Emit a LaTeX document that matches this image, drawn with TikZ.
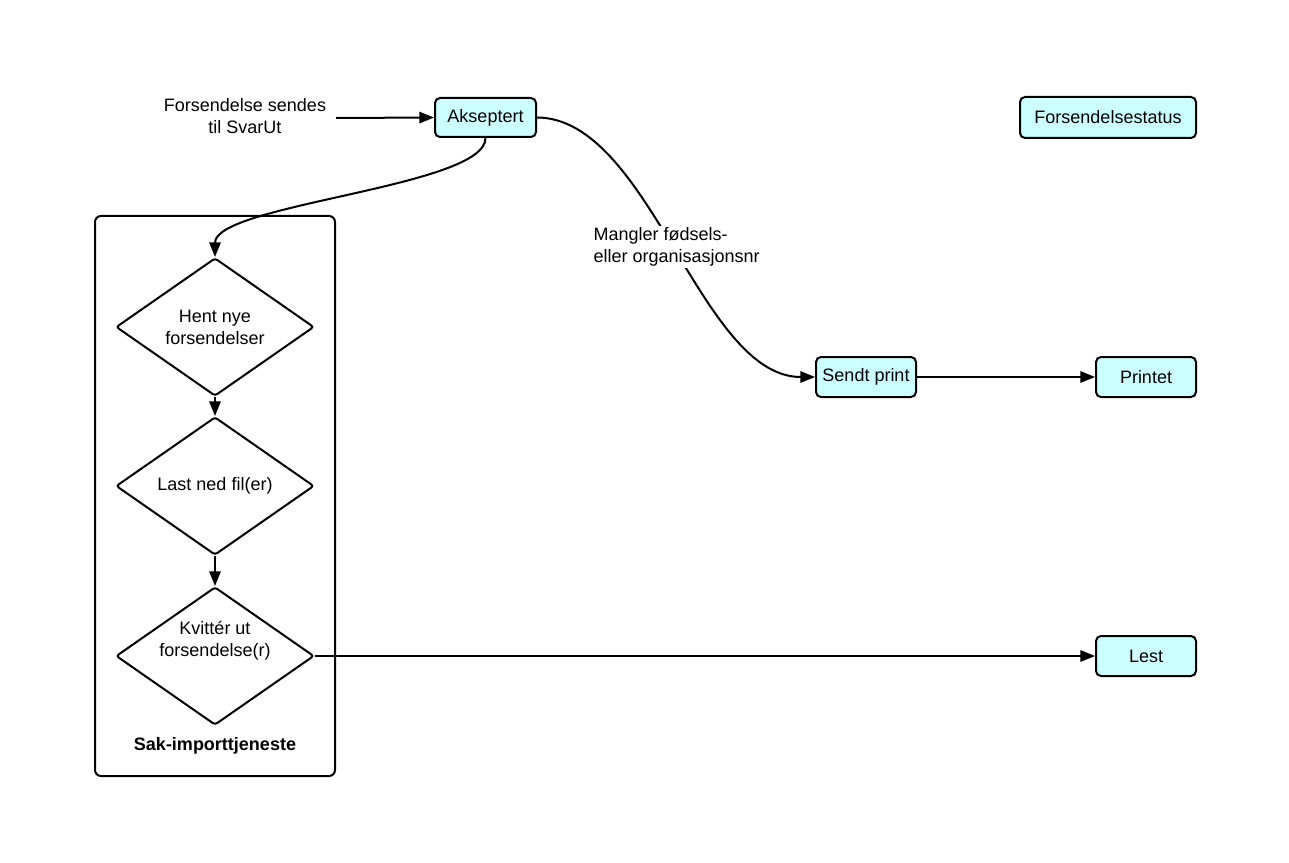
\documentclass[tikz,border=0pt]{standalone}
\usepackage{fontspec}
\setmainfont{Liberation Sans}
\usetikzlibrary{shapes.geometric,arrows.meta}
\definecolor{boxfill}{HTML}{CCFFFF}
\begin{document}
\begin{tikzpicture}[x=0.75pt,y=-0.75pt,
  every node/.style={font=\fontsize{13.5pt}{16.5pt}\selectfont},
  status/.style={draw=black,line width=1.5pt,fill=boxfill,rounded corners=3.75pt,minimum width=75pt,minimum height=30pt,inner sep=2pt},
  decision/.style={draw=black,line width=1.5pt,shape=diamond,aspect=1.43,minimum width=148.5pt,minimum height=103.5pt,inner sep=0pt,rounded corners=2pt,align=center},
  conn/.style={line width=1.5pt,-{Triangle[length=11pt,width=8.5pt]}},
  plain/.style={line width=1.5pt}]
\useasboundingbox (0,0) rectangle (1289,863);
% container
\node[draw=black,line width=1.5pt,rounded corners=4.5pt,minimum width=180pt,minimum height=420pt,inner sep=0pt] (cont) at (215,496) {};
\node[font=\fontsize{13.5pt}{16.5pt}\selectfont\bfseries] (contlbl) at (215,746) {Sak-importtjeneste};
% status boxes
\node[status,minimum width=75.75pt,minimum height=29.25pt] (aks) at (485.5,117.5) {Akseptert};
\node[status,minimum width=132pt,minimum height=30.75pt] (legend) at (1108,117.5) {Forsendelsestatus};
\node[status] (sendt) at (866,377) {Sendt print};
\node[status] (printet) at (1146,377) {Printet};
\node[status] (lest) at (1146,656) {Lest};
% diamonds
\node[decision] (d1) at (215,327) {Hent nye\\forsendelser};
\node[decision] (d2) at (215,486) {Last ned fil(er)};
\node[decision] (d3) at (215,656) {};
\node[align=center,inner sep=0pt] (d3t) at (215,641) {Kvittér ut\\forsendelse(r)};
% source text
\node[align=center,inner sep=0pt] (src) at (245,116.5) {Forsendelse sendes\\til SvarUt};
\coordinate (srcend) at (336,118);
% connectors
\draw[conn] (srcend) -- (aks.west);
\draw[conn] (aks.south) .. controls (486,187) and (215,204) .. (d1.north);
\draw[conn] (aks.east) .. controls (650,118) and (700,377) .. (sendt.west);
\node[fill=white,align=left,anchor=west,inner sep=1pt] (lbl) at (592,247) {Mangler fødsels-\\eller organisasjonsnr};
\draw[conn] (d1.south) -- (d2.north);
\draw[conn] (d2.south) -- (d3.north);
\draw[conn] (d3.east) -- (lest.west);
\draw[conn] (sendt.east) -- (printet.west);
\end{tikzpicture}
\end{document}
